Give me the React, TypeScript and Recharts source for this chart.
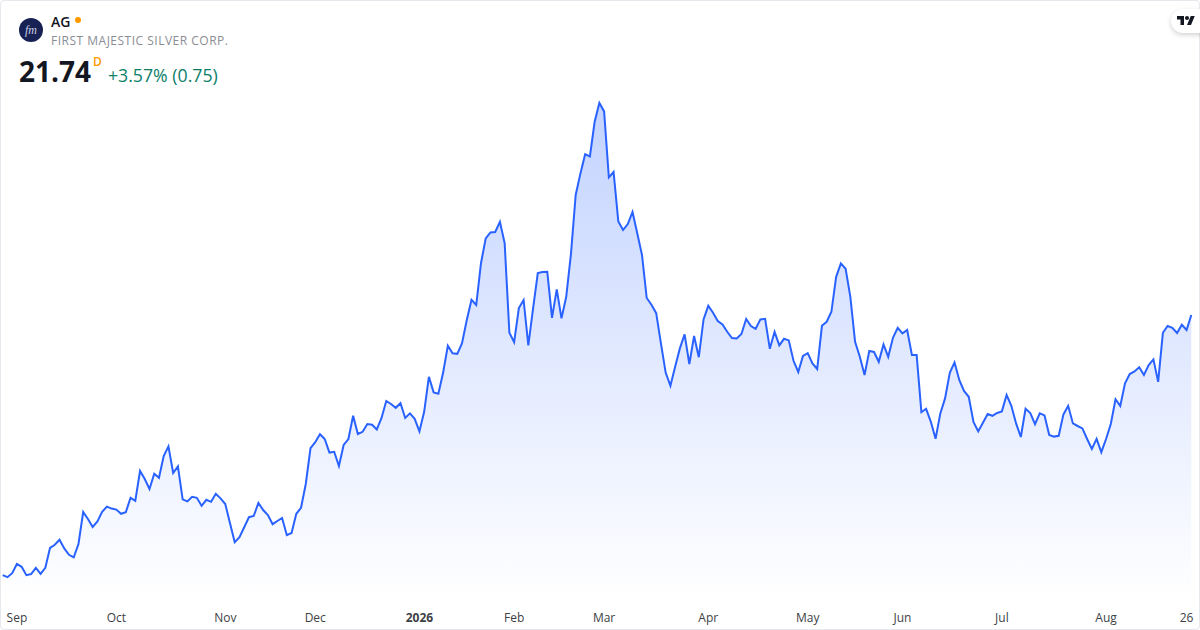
import React from "react";
import { AreaChart, Area, XAxis, YAxis } from "recharts";

const prices: number[] = [
  8.73, 8.63, 8.83, 9.29, 9.15, 8.73, 8.79, 9.10, 8.80, 9.10, 10.10, 10.25, 10.50, 10.07, 9.75, 9.62,
  10.29, 11.89, 11.54, 11.14, 11.42, 11.90, 12.16, 12.06, 12.01, 11.80, 11.88, 12.60, 12.45, 13.94, 13.54, 13.04,
  13.80, 13.60, 14.69, 15.17, 13.84, 14.17, 12.52, 12.42, 12.65, 12.60, 12.20, 12.50, 12.40, 12.80, 12.57, 12.29,
  11.33, 10.38, 10.63, 11.13, 11.63, 11.69, 12.34, 11.99, 11.74, 11.28, 11.44, 11.59, 10.73, 10.84, 11.80, 12.10,
  13.29, 15.08, 15.38, 15.78, 15.54, 14.86, 14.90, 14.19, 15.24, 15.54, 16.70, 15.79, 15.90, 16.29, 16.25, 16.02,
  16.59, 17.44, 17.29, 17.10, 17.33, 16.59, 16.82, 16.55, 15.92, 16.90, 18.65, 17.87, 17.80, 18.85, 20.20, 19.83,
  19.80, 20.33, 21.49, 22.50, 22.24, 24.33, 25.57, 25.87, 25.89, 26.40, 25.33, 20.85, 20.38, 22.09, 22.49, 20.22,
  22.07, 23.84, 23.89, 23.90, 21.60, 23.02, 21.57, 22.65, 24.79, 27.74, 28.82, 29.78, 29.67, 31.40, 32.34, 31.92,
  28.62, 28.89, 26.42, 25.99, 26.29, 26.89, 25.83, 24.74, 22.59, 22.25, 21.83, 20.32, 18.86, 18.20, 19.15, 20.07,
  20.77, 19.29, 20.69, 19.63, 21.52, 22.20, 21.85, 21.44, 21.27, 20.90, 20.59, 20.57, 20.79, 21.54, 21.19, 21.05,
  21.52, 21.55, 20.05, 20.90, 20.22, 20.55, 20.47, 19.45, 18.89, 19.69, 19.83, 19.32, 19.04, 21.20, 21.40, 21.90,
  23.65, 24.32, 24.05, 22.65, 20.40, 19.65, 18.74, 19.94, 19.89, 19.40, 20.27, 19.65, 20.60, 21.10, 20.82, 20.99,
  19.74, 19.74, 16.88, 17.05, 16.40, 15.55, 16.82, 17.57, 18.85, 19.37, 18.49, 17.94, 17.65, 16.39, 15.92, 16.35,
  16.79, 16.70, 16.84, 16.92, 17.74, 17.20, 16.32, 15.64, 17.05, 16.84, 16.28, 16.82, 16.72, 15.74, 15.66, 15.70,
  16.77, 17.20, 16.32, 16.19, 16.07, 15.54, 15.04, 15.55, 14.88, 15.54, 16.29, 17.53, 17.19, 18.32, 18.79, 18.92,
  19.13, 18.74, 19.24, 19.52, 18.40, 20.85, 21.19, 21.10, 20.84, 21.25, 20.99, 21.74,
];

const tickPositions: number[] = [3, 24, 47, 66, 88, 108, 127, 149, 170, 190, 211, 233, 250];
const tickLabels: string[] = ["Sep", "Oct", "Nov", "Dec", "2026", "Feb", "Mar", "Apr", "May", "Jun", "Jul", "Aug", "26"];

const data = prices.map((price, index) => ({ index, price }));
const FONT = '"Open Sans", "Noto Sans", sans-serif';

function Tick(props: any) {
  const { x, y, payload } = props;
  const label = tickLabels[tickPositions.indexOf(payload.value)];
  return (
    <text
      x={x}
      y={y + 11}
      textAnchor="middle"
      dominantBaseline="central"
      fontFamily={FONT}
      fontSize={12}
      fontWeight={label === "2026" ? 700 : 400}
      fill="#3d3f45"
    >
      {label}
    </text>
  );
}

export default function App() {
  return (
    <div
      style={{
        position: "absolute",
        left: 0,
        top: 0,
        width: 1200,
        height: 630,
        background: "#fff",
        overflow: "hidden",
        fontFamily: FONT,
      }}
    >
      <AreaChart
        width={1200}
        height={630}
        data={data}
        margin={{ top: 0, right: 8.7, bottom: 0, left: 2.7 }}
      >
        <defs>
          <linearGradient id="fillAG" x1="0" y1="0" x2="0" y2="1">
            <stop offset="0%" stopColor="#2962FF" stopOpacity={0.28} />
            <stop offset="100%" stopColor="#2962FF" stopOpacity={0} />
          </linearGradient>
        </defs>
        <XAxis
          dataKey="index"
          type="number"
          domain={[0, prices.length - 1]}
          ticks={tickPositions}
          interval={0}
          axisLine={false}
          tickLine={false}
          tick={<Tick />}
          tickMargin={0}
          height={30}
          padding={{ left: 0, right: 0 }}
        />
        <YAxis hide domain={[7.49, 37.49]} />
        <Area
          dataKey="price"
          type="linear"
          stroke="#2962FF"
          strokeWidth={2}
          fill="url(#fillAG)"
          fillOpacity={1}
          isAnimationActive={false}
          dot={false}
          activeDot={false}
        />
      </AreaChart>

      {/* frame */}
      <div
        style={{
          position: "absolute",
          inset: 0,
          border: "1px solid #e6e8ee",
          borderRadius: 4,
          boxSizing: "border-box",
          pointerEvents: "none",
        }}
      />

      {/* logo */}
      <div
        style={{
          position: "absolute",
          left: 19,
          top: 18,
          width: 24,
          height: 24,
          borderRadius: "50%",
          background: "#182154",
          color: "#c9cfe6",
          fontFamily: '"Liberation Serif", serif',
          fontStyle: "italic",
          fontSize: 12,
          lineHeight: "24px",
          textAlign: "center",
        }}
      >
        fm
      </div>

      {/* header */}
      <div style={{ position: "absolute", left: 51, top: 12, fontSize: 14, lineHeight: "19px", fontWeight: 600, color: "#131722" }}>AG</div>
      <div style={{ position: "absolute", left: 75, top: 17, width: 6, height: 6, borderRadius: "50%", background: "#ff9800" }} />
      <div style={{ position: "absolute", left: 51, top: 32, fontSize: 12, lineHeight: "17px", color: "#8a8d94", letterSpacing: 0.5 }}>
        FIRST MAJESTIC SILVER CORP.
      </div>
      <div style={{ position: "absolute", left: 19, top: 52, fontSize: 28, lineHeight: "38px", fontWeight: 700, color: "#131722" }}>21.74</div>
      <div style={{ position: "absolute", left: 93, top: 54, fontSize: 12, lineHeight: "16px", fontWeight: 600, color: "#ff9800" }}>D</div>
      <div style={{ position: "absolute", left: 108, top: 63, fontSize: 17.7, lineHeight: "24px", color: "#0b8068" }}>+3.57% (0.75)</div>

      {/* attribution */}
      <div
        style={{
          position: "absolute",
          left: 1171,
          top: 9,
          width: 40,
          height: 24,
          borderRadius: 12,
          background: "#fff",
          boxShadow: "0 2px 5px rgba(0,0,0,0.18)",
        }}
      />
      <svg style={{ position: "absolute", left: 1177, top: 15 }} width={18} height={11} viewBox="0 2 36 22" fill="#131722">
        <path d="M14 22H7V11H0V4h14v18zM28 22h-8l7.5-18h8L28 22z" />
        <circle cx="20" cy="8" r="4" />
      </svg>
    </div>
  );
}
